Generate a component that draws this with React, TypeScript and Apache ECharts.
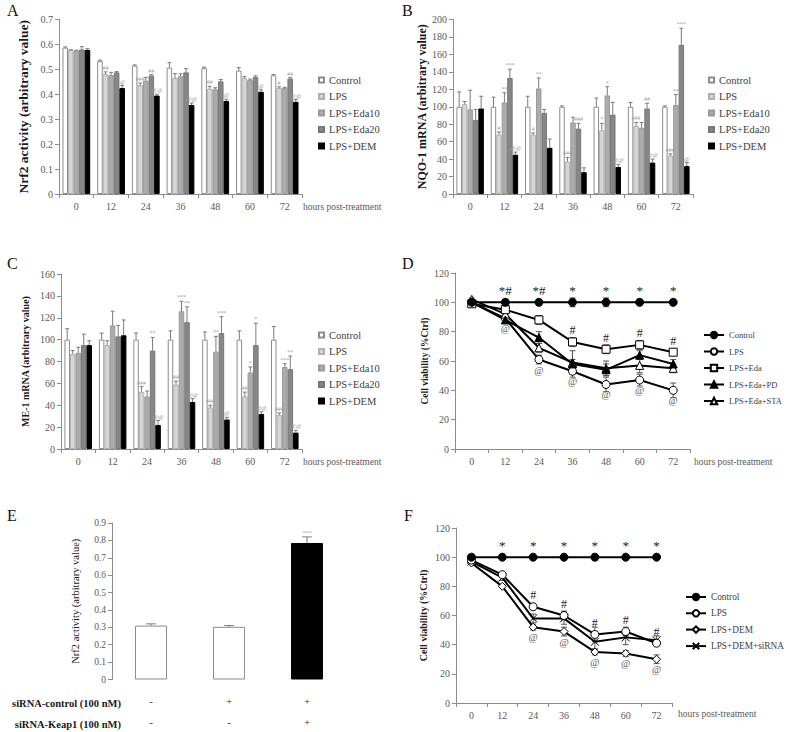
import React, { useEffect, useRef } from "react";
import * as echarts from "echarts";

const hours = ["0", "12", "24", "36", "48", "60", "72"];
const barGroups = ["Control", "LPS", "LPS+Eda10", "LPS+Eda20", "LPS+DEM"];
const none7 = ["", "", "", "", "", "", ""];

// Panel A – Nrf2 activity
const A_control = [0.587, 0.533, 0.515, 0.507, 0.505, 0.495, 0.476];
const A_lps = [0.578, 0.481, 0.437, 0.465, 0.422, 0.465, 0.425];
const A_eda10 = [0.576, 0.477, 0.455, 0.472, 0.42, 0.457, 0.425];
const A_eda20 = [0.58, 0.488, 0.475, 0.488, 0.452, 0.469, 0.463];
const A_dem = [0.578, 0.425, 0.395, 0.357, 0.373, 0.41, 0.37];
const A_controlErr = [0.59, 0.537, 0.518, 0.527, 0.509, 0.507, 0.479];
const A_lpsErr = [0.579, 0.49, 0.445, 0.483, 0.432, 0.471, 0.43];
const A_eda10Err = [0.577, 0.488, 0.468, 0.482, 0.426, 0.461, 0.428];
const A_eda20Err = [0.591, 0.491, 0.479, 0.503, 0.459, 0.474, 0.467];
const A_demErr = [0.583, 0.435, 0.4, 0.365, 0.38, 0.418, 0.379];
const A_lpsSig = ["", "##", "###", "", "##", "", "#"];
const A_eda20Sig = ["", "", "##", "", "", "", "##"];
const A_demSig = ["", "@", "@@", "@@", "@", "@", "@@"];

// Panel B – NQO-1 mRNA
const B_control = [100, 100, 100, 100, 100, 100, 100];
const B_lps = [103, 68, 68, 37, 73, 78, 44];
const B_eda10 = [97, 105, 121, 82, 113, 76, 102];
const B_eda20 = [85, 133, 93, 75, 91, 98, 171];
const B_dem = [98, 45, 53, 25, 31, 36, 32];
const B_controlErr = [117, 111, 112, 101, 110, 105, 101];
const B_lpsErr = [106, 71, 70, 42, 81, 82, 46];
const B_eda10Err = [119, 116, 133, 88, 123, 82, 114];
const B_eda20Err = [97, 143, 97, 81, 105, 104, 190];
const B_demErr = [112, 48, 63, 30, 34, 40, 36];
const B_lpsSig = ["", "#", "#", "###", "*", "###", "###"];
const B_eda10Sig = ["", "**", "**", "", "*", "", "**"];
const B_eda20Sig = ["", "***", "", "###", "", "##", "***"];
const B_demSig = ["", "@@", "", "", "@@", "@@", "@"];

// Panel C – ME-1 mRNA
const C_control = [100, 100, 100, 100, 100, 100, 100];
const C_lps = [87, 95, 52, 59, 38, 48, 31];
const C_eda10 = [88, 113, 48, 126, 89, 70, 75];
const C_eda20 = [95, 103, 90, 116, 106, 95, 73];
const C_dem = [95, 104, 22, 43, 27, 32, 15];
const C_controlErr = [110, 106, 106, 108, 107, 108, 112];
const C_lpsErr = [90, 99, 57, 62, 40, 52, 33];
const C_eda10Err = [93, 126, 53, 135, 103, 75, 78];
const C_eda20Err = [105, 113, 102, 130, 121, 115, 85];
const C_demErr = [99, 118, 26, 46, 29, 34, 17];
const C_lpsSig = ["", "", "###", "##", "###", "##", "###"];
const C_eda10Sig = ["", "", "", "***", "**", "*", "***"];
const C_eda20Sig = ["", "", "**", "**", "***", "*", "**"];
const C_demSig = ["", "", "@@", "@@", "@", "@@", "@@"];

// Panel D – cell viability
const D_control = [100, 100, 100, 100, 100, 100, 100];
const D_lps = [100, 89, 61, 53, 44, 47, 40];
const D_eda = [99, 95, 88, 73, 68, 71, 66];
const D_pd = [100, 88, 76, 58, 54, 64, 58];
const D_sta = [102, 92, 69, 59, 55, 57, 55];
const D_controlSd = [1, 2, 2, 3, 3, 2, 2];
const D_lpsSd = [1, 3, 3, 4, 5, 4, 5];
const D_edaSd = [1, 2, 3, 3, 3, 3, 2];
const D_pdSd = [1, 2, 4, 3, 4, 3, 3];
const D_staSd = [1, 3, 3, 8, 5, 5, 3];
const D_controlSig = ["", "*#", "*#", "*", "*", "*", "*"];
const D_edaSig = ["", "", "", "#", "#", "#", "#"];
const D_lpsSig = ["", "@", "@", "@", "@", "@", "@"];

// Panel E – Nrf2 activity with siRNA
const E_values = [0.31, 0.303, 0.785];
const E_err = [0.32, 0.31, 0.82];
const E_siControl = ["-", "+", "+"];
const E_siKeap = ["-", "-", "+"];
const E_sig = ["", "", "***"];

// Panel F – cell viability with siRNA
const F_control = [100, 100, 100, 100, 100, 100, 100];
const F_lps = [98, 88, 66, 60, 47, 49, 41];
const F_dem = [96, 80, 52, 49, 35, 34, 30];
const F_sirna = [97, 86, 58, 58, 42, 45, 43];
const F_controlSd = [1, 1, 1, 1, 2, 1, 1];
const F_lpsSd = [1, 1, 2, 3, 5, 3, 2];
const F_demSd = [1, 1, 2, 3, 2, 2, 3];
const F_sirnaSd = [1, 2, 3, 4, 5, 5, 3];
const F_controlSig = ["", "*", "*", "*", "*", "*", "*"];
const F_lpsSig = ["", "", "#", "#", "#", "#", "#"];
const F_demSig = ["", "", "@", "@", "@", "@", "@"];

const FONT = '"Liberation Serif", "Times New Roman", serif';
const TICK = "#595959";
const AXIS = "#8c8c8c";

const barStyles = [
  { color: "#ffffff", borderColor: "#8c8c8c", borderWidth: 1 },
  { color: "#d6d6d6", borderColor: "#b0b0b0", borderWidth: 1 },
  { color: "#acacac", borderColor: "#9a9a9a", borderWidth: 1 },
  { color: "#878787", borderColor: "#777777", borderWidth: 1 },
  { color: "#000000", borderColor: "#000000", borderWidth: 1 },
];

const strip = (n: string) => n.split("|")[0];

function xCat(gridIndex: number, data: string[], fontSize: number, extra: any = {}) {
  return {
    type: "category",
    gridIndex,
    data,
    boundaryGap: true,
    axisLine: { show: true, lineStyle: { color: AXIS } },
    axisTick: { show: true, length: 4, lineStyle: { color: AXIS } },
    axisLabel: { color: TICK, fontFamily: FONT, fontSize, margin: 7 },
    ...extra,
  };
}

function yVal(
  gridIndex: number,
  max: number,
  interval: number,
  name: string,
  nameGap: number,
  nameSize: number,
  fontSize: number,
  bold = true
) {
  return {
    type: "value",
    gridIndex,
    min: 0,
    max,
    interval,
    name,
    nameLocation: "middle",
    nameGap,
    nameTextStyle: {
      fontFamily: FONT,
      fontSize: nameSize,
      fontWeight: bold ? "bold" : "normal",
      color: "#1a1a1a",
    },
    axisLine: { show: true, lineStyle: { color: AXIS } },
    axisTick: { show: true, length: 4, lineStyle: { color: AXIS } },
    axisLabel: { color: TICK, fontFamily: FONT, fontSize, margin: 6 },
    splitLine: { show: false },
  };
}

function barSeries(panel: string, gridIndex: number, groups: number[][]) {
  return groups.map((vals, g) => ({
    type: "bar",
    name: barGroups[g] + "|" + panel,
    xAxisIndex: gridIndex,
    yAxisIndex: gridIndex,
    data: vals,
    barGap: "0%",
    barCategoryGap: "20%",
    itemStyle: barStyles[g],
    silent: true,
  }));
}

function errorSeries(
  gridIndex: number,
  values: number[][],
  errs: number[][],
  sigs: string[][],
  nGroups: number,
  gapRatio: number,
  capRatio: number
) {
  const data: number[][] = [];
  const labels: string[] = [];
  values.forEach((arr, g) =>
    arr.forEach((v, c) => {
      data.push([c, v, errs[g][c], g]);
      labels.push(sigs[g][c]);
    })
  );
  return {
    type: "custom",
    xAxisIndex: gridIndex,
    yAxisIndex: gridIndex,
    silent: true,
    z: 5,
    data,
    renderItem: (params: any, api: any) => {
      const c = api.value(0);
      const v = api.value(1);
      const e = api.value(2);
      const g = api.value(3);
      const p0 = api.coord([c, v]);
      const p1 = api.coord([c, e]);
      const band = api.size([1, 0])[0];
      const bw = (band * (1 - gapRatio)) / nGroups;
      const x = p0[0] + (g - (nGroups - 1) / 2) * bw;
      const cap = Math.max(1.5, bw * capRatio);
      const st = { stroke: "#7a7a7a", lineWidth: 1 };
      const children: any[] = [
        { type: "line", shape: { x1: x, y1: p0[1], x2: x, y2: p1[1] }, style: st },
        { type: "line", shape: { x1: x - cap, y1: p1[1], x2: x + cap, y2: p1[1] }, style: st },
      ];
      const t = labels[params.dataIndex];
      if (t) {
        children.push({
          type: "text",
          style: {
            text: t,
            x,
            y: p1[1] - 1,
            align: "center",
            verticalAlign: "bottom",
            fontSize: 6,
            fontFamily: FONT,
            fill: "#9a9a9a",
          },
        });
      }
      return { type: "group", children };
    },
  };
}

// symmetric error bars for the line panels
function lineErrorSeries(gridIndex: number, values: number[][], sds: number[][]) {
  const data: number[][] = [];
  values.forEach((arr, g) => arr.forEach((v, c) => data.push([c, v - sds[g][c], v + sds[g][c]])));
  return {
    type: "custom",
    xAxisIndex: gridIndex,
    yAxisIndex: gridIndex,
    silent: true,
    z: 1,
    data,
    renderItem: (_params: any, api: any) => {
      const c = api.value(0);
      const lo = api.coord([c, api.value(1)]);
      const hi = api.coord([c, api.value(2)]);
      const x = lo[0];
      const cap = 3;
      const st = { stroke: "#555", lineWidth: 1 };
      return {
        type: "group",
        children: [
          { type: "line", shape: { x1: x, y1: lo[1], x2: x, y2: hi[1] }, style: st },
          { type: "line", shape: { x1: x - cap, y1: lo[1], x2: x + cap, y2: lo[1] }, style: st },
          { type: "line", shape: { x1: x - cap, y1: hi[1], x2: x + cap, y2: hi[1] }, style: st },
        ],
      };
    },
  };
}

function lineSeries(
  name: string,
  gridIndex: number,
  data: number[],
  symbol: string,
  fill: string,
  sig?: string[],
  sigPos: string = "top",
  sigSize = 12,
  sigColor = "#333"
) {
  return {
    type: "line",
    name,
    xAxisIndex: gridIndex,
    yAxisIndex: gridIndex,
    data,
    symbol,
    symbolSize: 8,
    showAllSymbol: true,
    z: 3,
    lineStyle: { color: "#000", width: 2 },
    itemStyle: { color: fill, borderColor: "#000", borderWidth: 1 },
    silent: true,
    label: sig
      ? {
          show: true,
          position: sigPos,
          distance: 1,
          formatter: (p: any) => sig[p.dataIndex],
          fontFamily: FONT,
          fontSize: sigSize,
          color: sigColor,
        }
      : { show: false },
  };
}

function barLegend(panel: string, left: number, top: number) {
  return {
    orient: "vertical",
    left,
    top,
    padding: 0,
    itemWidth: 5,
    itemHeight: 5,
    itemGap: 4.5,
    icon: "rect",
    selectedMode: false,
    data: barGroups.map((n) => n + "|" + panel),
    formatter: strip,
    textStyle: { fontFamily: FONT, fontSize: 10.5, color: "#404040", lineHeight: 12 },
  };
}

function lineLegend(names: string[], left: number, top: number, fontSize: number, gap: number) {
  return {
    orient: "vertical",
    left,
    top,
    padding: 0,
    itemWidth: 20,
    itemHeight: 8,
    itemGap: gap,
    selectedMode: false,
    data: names,
    formatter: strip,
    textStyle: { fontFamily: FONT, fontSize, color: "#404040", lineHeight: 11 },
  };
}

function panelLabel(t: string, x: number, y: number) {
  return {
    type: "text",
    x,
    y,
    style: { text: t, fontFamily: FONT, fontSize: 16, fill: "#111", verticalAlign: "middle" },
  };
}

function plainText(t: string, x: number, y: number, size: number, align = "left", bold = false, color = TICK) {
  return {
    type: "text",
    x,
    y,
    style: {
      text: t,
      fontFamily: FONT,
      fontSize: size,
      fontWeight: bold ? "bold" : "normal",
      fill: color,
      align,
      verticalAlign: "middle",
    },
  };
}

const crossPath = "path://M0,0L10,10M10,0L0,10";

export default function App() {
  const ref = useRef<HTMLDivElement>(null);
  useEffect(() => {
    if (!ref.current) return;
    const chart = echarts.init(ref.current, undefined, { renderer: "svg" });

    const grids = [
      { left: 59, top: 19.5, width: 243, height: 174.5 },
      { left: 453, top: 19.5, width: 240, height: 174.5 },
      { left: 61, top: 274, width: 241, height: 175 },
      { left: 455, top: 273, width: 235, height: 176 },
      { left: 112, top: 523, width: 234, height: 159 },
      { left: 456, top: 528, width: 216, height: 175 },
    ];

    const eCats = E_siControl.map((s, i) => s + "/" + E_siKeap[i]);

    const option: any = {
      animation: false,
      backgroundColor: "#fff",
      grid: grids.map((g) => ({ ...g, containLabel: false })),
      xAxis: [
        xCat(0, hours, 10),
        xCat(1, hours, 10),
        xCat(2, hours, 10),
        xCat(3, hours, 10),
        xCat(4, eCats, 11, {
          axisLine: { show: false },
          axisTick: { show: false },
          axisLabel: {
            color: "#333",
            fontFamily: FONT,
            fontSize: 11,
            margin: 10.5,
            lineHeight: 21,
            formatter: (_v: string, i: number) => E_siControl[i] + "\n" + E_siKeap[i],
          },
        }),
        xCat(5, hours, 10),
      ],
      yAxis: [
        yVal(0, 0.7, 0.1, "Nrf2 activity (arbitrary value)", 29, 13.5, 10),
        yVal(1, 200, 20, "NQO-1 mRNA (arbitrary value)", 24, 12, 10),
        yVal(2, 160, 20, "ME-1 mRNA (arbitrary value)", 31, 10, 10),
        yVal(3, 120, 20, "Cell viability (%Ctrl)", 25, 9.5, 10),
        yVal(4, 0.9, 0.1, "Nrf2 activity (arbitrary value)", 31, 10.5, 9.5, false),
        yVal(5, 120, 20, "Cell viability (%Ctrl)", 28, 10, 10),
      ],
      legend: [
        barLegend("A", 318, 74),
        barLegend("B", 708, 74),
        barLegend("C", 318, 329),
        lineLegend(
          ["Control|D", "LPS|D", "LPS+Eda|D", "LPS+Eda+PD|D", "LPS+Eda+STA|D"],
          703,
          329.5,
          8.5,
          5.5
        ),
        lineLegend(["Control|F", "LPS|F", "LPS+DEM|F", "LPS+DEM+siRNA|F"], 685, 591.5, 9.3, 5.3),
      ],
      graphic: [
        panelLabel("A", 7, 10),
        panelLabel("B", 402, 10),
        panelLabel("C", 7, 263),
        panelLabel("D", 402, 263),
        panelLabel("E", 7, 515),
        panelLabel("F", 404, 515),
        plainText("hours post-treatment", 303, 207, 9.5),
        plainText("hours post-treatment", 303, 462, 9.5),
        plainText("hours post-treatment", 694, 462, 9.5),
        plainText("hours post-treatment", 678, 714, 9.5),
        plainText("siRNA-control (100 nM)", 121, 703, 10.5, "right", true, "#1a1a1a"),
        plainText("siRNA-Keap1 (100 nM)", 121, 724, 10.5, "right", true, "#1a1a1a"),
      ],
      series: [
        ...barSeries("A", 0, [A_control, A_lps, A_eda10, A_eda20, A_dem]),
        errorSeries(
          0,
          [A_control, A_lps, A_eda10, A_eda20, A_dem],
          [A_controlErr, A_lpsErr, A_eda10Err, A_eda20Err, A_demErr],
          [none7, A_lpsSig, none7, A_eda20Sig, A_demSig],
          5,
          0.2,
          0.35
        ),
        ...barSeries("B", 1, [B_control, B_lps, B_eda10, B_eda20, B_dem]),
        errorSeries(
          1,
          [B_control, B_lps, B_eda10, B_eda20, B_dem],
          [B_controlErr, B_lpsErr, B_eda10Err, B_eda20Err, B_demErr],
          [none7, B_lpsSig, B_eda10Sig, B_eda20Sig, B_demSig],
          5,
          0.2,
          0.35
        ),
        ...barSeries("C", 2, [C_control, C_lps, C_eda10, C_eda20, C_dem]),
        errorSeries(
          2,
          [C_control, C_lps, C_eda10, C_eda20, C_dem],
          [C_controlErr, C_lpsErr, C_eda10Err, C_eda20Err, C_demErr],
          [none7, C_lpsSig, C_eda10Sig, C_eda20Sig, C_demSig],
          5,
          0.2,
          0.35
        ),
        lineErrorSeries(
          3,
          [D_control, D_lps, D_eda, D_pd, D_sta],
          [D_controlSd, D_lpsSd, D_edaSd, D_pdSd, D_staSd]
        ),
        lineSeries("LPS|D", 3, D_lps, "circle", "#fff", D_lpsSig, "bottom", 10, "#555"),
        lineSeries("LPS+Eda+STA|D", 3, D_sta, "triangle", "#fff"),
        lineSeries("LPS+Eda+PD|D", 3, D_pd, "triangle", "#000"),
        lineSeries("LPS+Eda|D", 3, D_eda, "rect", "#fff", D_edaSig, "top", 12, "#222"),
        lineSeries("Control|D", 3, D_control, "circle", "#000", D_controlSig, "top", 13, "#222"),
        {
          type: "bar",
          name: "siRNA|E",
          xAxisIndex: 4,
          yAxisIndex: 4,
          barCategoryGap: "59%",
          silent: true,
          data: E_values.map((v, i) => ({
            value: v,
            itemStyle:
              i === 2
                ? { color: "#000", borderColor: "#000", borderWidth: 1 }
                : { color: "#fff", borderColor: "#8c8c8c", borderWidth: 1 },
          })),
        },
        errorSeries(4, [E_values], [E_err], [E_sig], 1, 0.59, 0.15),
        lineErrorSeries(
          5,
          [F_control, F_lps, F_dem, F_sirna],
          [F_controlSd, F_lpsSd, F_demSd, F_sirnaSd]
        ),
        lineSeries("LPS+DEM|F", 5, F_dem, "diamond", "#fff", F_demSig, "bottom", 10, "#555"),
        lineSeries("LPS+DEM+siRNA|F", 5, F_sirna, crossPath, "none"),
        lineSeries("LPS|F", 5, F_lps, "circle", "#fff", F_lpsSig, "top", 12, "#222"),
        lineSeries("Control|F", 5, F_control, "circle", "#000", F_controlSig, "top", 13, "#222"),
      ],
    };

    chart.setOption(option);
    return () => chart.dispose();
  }, []);

  return (
    <div
      ref={ref}
      style={{ position: "absolute", left: 0, top: 0, width: 787, height: 732, background: "#fff" }}
    />
  );
}
